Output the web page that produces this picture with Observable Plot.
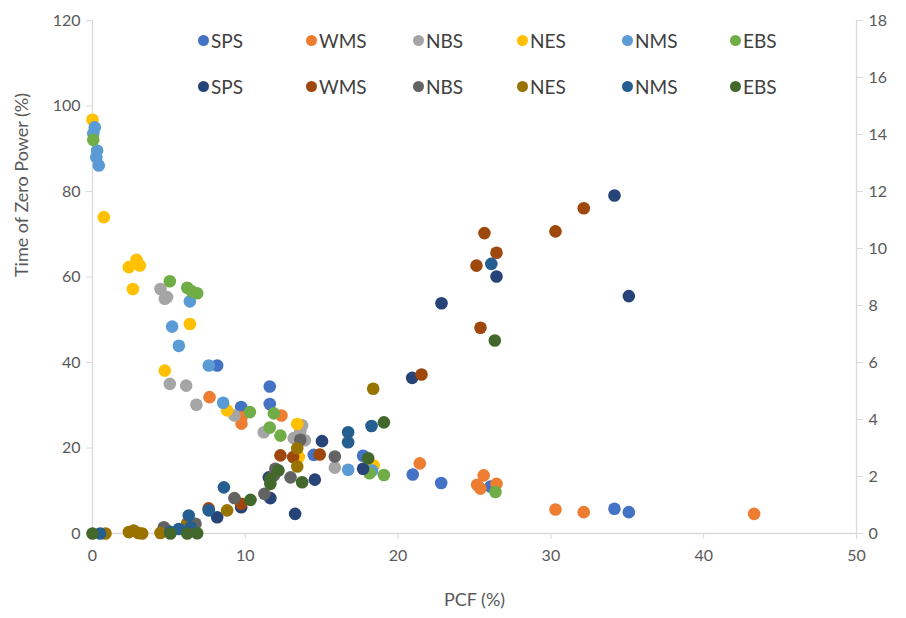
<!DOCTYPE html>
<html><head><meta charset="utf-8">
<script src="https://cdn.jsdelivr.net/npm/d3@7"></script>
<script src="https://cdn.jsdelivr.net/npm/@observablehq/plot@0.6"></script>
<style>
body{margin:0;background:#fff;}
#wrap{position:relative;width:906px;height:618px;font-family:Lato,"Open Sans",sans-serif;}
#legend{position:absolute;left:190px;top:24px;width:610px;height:80px;background:#fff;}
.item{position:absolute;display:flex;align-items:center;font-size:19px;color:#404040;white-space:nowrap;}
.mk{width:11px;height:11px;border-radius:50%;margin-right:2px;}
</style></head>
<body><div id="wrap"><div id="legend"></div></div>
<script>
// Series names and colours
const names = ["SPS","WMS","NBS","NES","NMS","EBS"];
const lightColors = ["#4472C4","#ED7D31","#A5A5A5","#FFC000","#5B9BD5","#70AD47"];
const darkColors  = ["#264478","#9E480E","#636363","#997300","#255E91","#43682B"];

// Primary axis series: [PCF %, Time of Zero Power %]
const spsL = [[8.16,39.3],[9.73,29.6],[11.6,34.4],[11.6,30.3],[14.48,18.4],[17.71,18.2],[20.96,13.8],[22.82,11.8],[26.05,11.0],[34.16,5.8],[35.1,5.0]];
const wmsL = [[7.66,31.9],[9.75,27.2],[9.75,25.7],[12.37,27.6],[21.42,16.4],[25.6,13.6],[25.17,11.4],[25.39,10.5],[26.44,11.6],[30.3,5.6],[32.15,5.0],[43.3,4.6]];
const nbsL = [[4.45,57.2],[4.73,54.9],[4.88,55.3],[5.06,35.0],[6.13,34.6],[6.8,30.1],[9.29,27.6],[11.21,23.7],[13.72,25.3],[13.6,23.9],[13.17,22.3],[13.9,21.8],[15.86,15.4]];
const nesL = [[0.0,96.8],[0.74,74.0],[2.38,62.3],[2.88,64.0],[3.1,62.7],[2.64,57.2],[6.37,49.0],[4.73,38.1],[8.81,28.8],[13.4,25.6],[13.5,17.9],[18.4,15.9]];
const nmsL = [[0.15,95.0],[0.05,93.6],[0.3,89.6],[0.25,88.0],[0.41,86.1],[6.37,54.3],[5.21,48.4],[5.65,43.9],[7.61,39.3],[8.55,30.6],[16.73,14.9],[18.3,14.7]];
const ebsL = [[0.05,92.1],[5.06,59.0],[6.2,57.5],[6.48,56.7],[6.85,56.2],[10.3,28.4],[11.87,28.1],[11.6,24.8],[12.3,22.9],[18.13,14.1],[19.07,13.7],[26.37,9.7]];

// Secondary axis series: [PCF %, right-axis value]
const spsR = [[8.16,0.57],[9.73,0.92],[11.54,1.97],[11.64,1.24],[13.26,0.69],[14.55,1.89],[15.02,3.24],[17.71,2.27],[20.92,5.46],[22.84,8.08],[26.44,9.02],[34.16,11.86],[35.1,8.33]];
const wmsR = [[7.6,0.88],[9.73,1.04],[12.3,2.74],[13.13,2.68],[14.87,2.77],[21.53,5.58],[25.39,7.22],[25.13,9.4],[25.65,10.54],[26.44,9.85],[30.3,10.6],[32.15,11.41],[43.3,17.1]];
const nbsR = [[4.67,0.22],[4.9,0.1],[6.74,0.34],[9.29,1.24],[11.25,1.39],[11.87,2.03],[11.97,2.27],[12.96,1.97],[13.6,3.29],[15.86,2.7]];
const nesR = [[0.85,0],[2.38,0.05],[2.7,0.1],[3.0,0.02],[3.25,0],[4.45,0.02],[6.2,0.36],[8.81,0.81],[13.4,2.99],[13.4,2.35],[18.37,5.08]];
const nmsR = [[0.5,0],[5.1,0.05],[5.65,0.16],[6.3,0.63],[6.42,0.22],[7.61,0.81],[8.6,1.62],[16.73,3.55],[16.73,3.2],[18.26,3.77],[26.1,9.46]];
const ebsR = [[0.0,0],[5.1,0],[6.2,0],[6.85,0.01],[10.34,1.18],[11.64,1.92],[11.64,1.74],[12.17,2.21],[13.72,1.8],[18.04,2.64],[19.07,3.9],[26.33,6.77]];

const xTicks = [0,10,20,30,40,50];
const yTicks = [0,20,40,60,80,100,120];
const rTicks = [0,2,4,6,8,10,12,14,16,18];
const xTitle = "PCF (%)";
const yTitle = "Time of Zero Power (%)";

const leftMax = 120, rightMax = 18, K = leftMax / rightMax;
const prim = [spsL,wmsL,nbsL,nesL,nmsL,ebsL];
const sec = [spsR,wmsR,nbsR,nesR,nmsR,ebsR];
const rows = [];
prim.forEach((s,i)=>s.forEach(([x,y])=>rows.push({x, y, c: lightColors[i]})));
sec.forEach((s,i)=>s.forEach(([x,r])=>rows.push({x, y: r*K, c: darkColors[i]})));

const tickStyle = {fontSize:16, fill:"#595959", stroke:"#d9d9d9"};
const chart = Plot.plot({
  width:906, height:618,
  marginLeft:92, marginRight:50, marginTop:20, marginBottom:85,
  style:{fontFamily:'Lato,"Open Sans",sans-serif', background:"#fff", overflow:"visible"},
  x:{domain:[0,50]},
  y:{domain:[0,leftMax]},
  color:{type:"identity"},
  marks:[
    Plot.ruleX([0,50],{stroke:"#d9d9d9", strokeWidth:1.3}),
    Plot.ruleY([0],{stroke:"#d9d9d9", strokeWidth:1.3}),
    Plot.axisX({ticks:xTicks, tickSize:6, tickPadding:10, ...tickStyle, label:null}),
    Plot.axisY({ticks:yTicks, tickSize:6, tickPadding:6, ...tickStyle, label:null}),
    Plot.axisY({anchor:"right", ticks:rTicks.map(r=>r*K), tickFormat:d=>String(Math.round(d/K)), tickSize:6, tickPadding:6, ...tickStyle, label:null}),
    Plot.text([xTitle],{frameAnchor:"bottom", dy:72, fontSize:18, fill:"#595959"}),
    Plot.text([yTitle],{frameAnchor:"left", dx:-70, rotate:-90, fontSize:18, fill:"#595959"}),
    Plot.dot(rows,{x:"x", y:"y", r:6.3, fill:"c", stroke:"none"})
  ]
});
document.getElementById("wrap").prepend(chart);

// Legend overlay
const legend = document.getElementById("legend");
const colX = [8,116,223,327,432,540];
[[lightColors,17],[darkColors,63]].forEach(([cols,top])=>{
  names.forEach((n,i)=>{
    const it = document.createElement("div");
    it.className="item"; it.style.left=colX[i]+"px"; it.style.top=(top-12)+"px";
    it.innerHTML=`<span class="mk" style="background:${cols[i]}"></span><span>${n}</span>`;
    legend.appendChild(it);
  });
});
</script></body></html>
